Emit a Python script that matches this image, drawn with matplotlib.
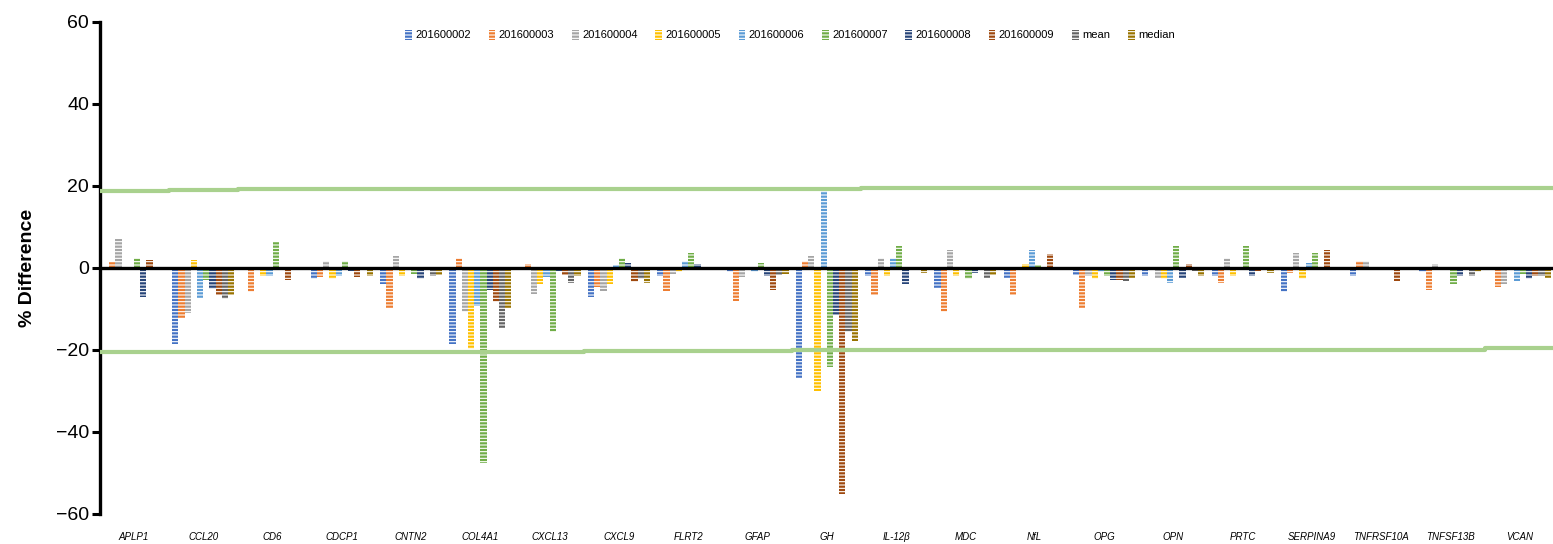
import numpy as np
import matplotlib
matplotlib.use("Agg")
import matplotlib.pyplot as plt

# categorias (proteinas)
genes = ["APLP1", "CCL20", "CD6", "CDCP1", "CNTN2", "COL4A1", "CXCL13", "CXCL9",
         "FLRT2", "GFAP", "GH", "IL-12β", "MDC", "NfL", "OPG", "OPN", "PRTC",
         "SERPINA9", "TNFRSF10A", "TNFSF13B", "VCAN"]

series_names = ["201600002", "201600003", "201600004", "201600005", "201600006",
                "201600007", "201600008", "201600009", "mean", "median"]

# % diferenca por amostra
s201600002 = [-0.5, -18.5, 0.0, -2.8, -3.8, -18.6, 0.3, -7.1, -2.0, -1.0, -26.8,
              -2.0, -4.8, -2.4, -1.8, -2.0, -2.0, -5.9, -2.0, -1.0, 0.3]
s201600003 = [1.5, -12.2, -5.9, -2.1, -9.8, 2.5, 1.0, -4.7, -5.5, -8.1, 1.8,
              -6.6, -10.8, -6.6, -9.8, -0.5, -3.6, -1.3, 1.6, -5.3, -4.6]
s201600004 = [7.0, -11.0, 0.0, 1.6, 2.9, -10.7, -6.3, -5.5, -1.4, -2.1, 2.9,
              2.5, 4.4, 0.0, -2.0, -2.4, 2.5, 3.6, 1.6, 1.0, -3.8]
s201600005 = [0.2, 2.0, -2.0, -2.6, -2.0, -19.8, -3.9, -3.8, -1.0, 0.3, -30.1,
              -2.0, -2.0, 1.0, -2.8, -2.8, -2.0, -2.6, 0.0, 0.0, 0.0]
s201600006 = [0.0, -7.3, -2.0, -2.0, -0.5, -9.3, -2.2, 0.7, 1.6, -1.0, 18.7,
              2.5, -0.5, 4.4, -1.0, -3.6, 0.0, 1.1, 0.0, 0.0, -3.1]
s201600007 = [2.5, -3.0, 6.4, 1.6, -1.5, -47.5, -15.5, 2.5, 3.7, 1.1, -24.1,
              5.4, -2.8, 0.7, -2.0, 5.4, 5.4, 3.6, 0.3, -4.0, -1.4]
s201600008 = [-7.0, -5.2, -0.3, -0.8, -2.8, -5.4, -0.8, 1.2, 1.0, -2.0, -11.4,
              -3.9, -1.1, 0.0, -2.9, -2.5, -2.0, -0.5, 0.3, -2.0, -2.8]
s201600009 = [2.0, -6.5, -3.0, -2.3, 0.0, -8.3, -1.6, -3.3, 0.0, -5.4, -55.0,
              0.0, -0.6, 3.3, -3.0, 1.0, -0.8, 4.4, -3.2, -0.5, -2.0]
mean_vals = [0.3, -7.5, -0.5, -0.5, -2.0, -14.7, -3.7, -2.8, 0.2, -1.8, -15.5,
             -0.3, -2.4, 0.0, -3.2, -0.8, 0.0, 0.0, 0.0, -2.0, -2.0]
median_vals = [0.2, -6.6, -0.5, -2.0, -1.8, -9.8, -2.0, -3.7, 0.1, -1.4, -17.7,
               -1.1, -1.6, 0.3, -2.4, -2.0, -1.1, 0.0, 0.0, -1.0, -2.4]

# limites de +-20% (linhas verdes)
upper_limit = [18.9, 19.1, 19.3, 19.3, 19.3, 19.3, 19.3, 19.3, 19.3, 19.3, 19.3,
               19.4, 19.4, 19.6, 19.6, 19.6, 19.6, 19.6, 19.6, 19.6, 19.6]
lower_limit = [-20.6, -20.6, -20.6, -20.6, -20.6, -20.6, -20.6, -20.3, -20.3, -20.3,
               -20.1, -20.1, -20.1, -20.1, -20.1, -20.1, -20.1, -20.1, -19.9, -19.9, -19.6]

all_series = [s201600002, s201600003, s201600004, s201600005, s201600006,
              s201600007, s201600008, s201600009, mean_vals, median_vals]
colors = ["#4472C4", "#ED7D31", "#A5A5A5", "#FFC000", "#5B9BD5",
          "#70AD47", "#264478", "#9E480E", "#636363", "#997300"]

plt.rcParams["font.family"] = ["Liberation Sans", "DejaVu Sans"]
plt.rcParams["hatch.linewidth"] = 0.8

fig = plt.figure(figsize=(15.53, 5.44), dpi=100)
ax = fig.add_axes([100 / 1553, 30 / 544, 1 - 100 / 1553, 492 / 544])

x = np.arange(len(genes))
w = 0.0895
for i, (vals, c, name) in enumerate(zip(all_series, colors, series_names)):
    ax.bar(x + (i - 4.5) * w, vals, width=w, color=c, edgecolor="white",
           linewidth=0, hatch="-----", label=name, zorder=2)

# linhas verdes
xs = np.concatenate([[-0.6], x, [20.6]])
ax.plot(xs, [upper_limit[0]] + upper_limit + [upper_limit[-1]], drawstyle="steps-mid",
        color="#A9D18E", lw=3, zorder=4)
ax.plot(xs, [lower_limit[0]] + lower_limit + [lower_limit[-1]], drawstyle="steps-mid",
        color="#A9D18E", lw=3, zorder=4)

ax.axhline(0, color="black", lw=2.4, zorder=5)

ax.set_xlim(-0.49, 20.48)
ax.set_ylim(-60, 60)
ax.set_yticks([-60, -40, -20, 0, 20, 40, 60])
ax.tick_params(axis="y", labelsize=14, width=2.2, length=6, direction="out", pad=2)
ax.set_xticks(x)
ax.set_xticklabels(genes, fontsize=7, style="italic")
ax.tick_params(axis="x", length=0, pad=13)
for s in ["top", "right", "bottom"]:
    ax.spines[s].set_visible(False)
ax.spines["left"].set_linewidth(2.4)

fig.text(28 / 1553, 1 - 268 / 544, "% Difference", rotation=90, fontsize=14,
         fontweight="bold", ha="center", va="center")

ax.legend(loc="center", bbox_to_anchor=(790 / 1553, 1 - 35 / 544),
          bbox_transform=fig.transFigure, ncol=10, frameon=False, fontsize=8,
          handlelength=0.6, handleheight=1.0, handletextpad=0.3, columnspacing=1.6)

fig.savefig("out.png", dpi=100)
